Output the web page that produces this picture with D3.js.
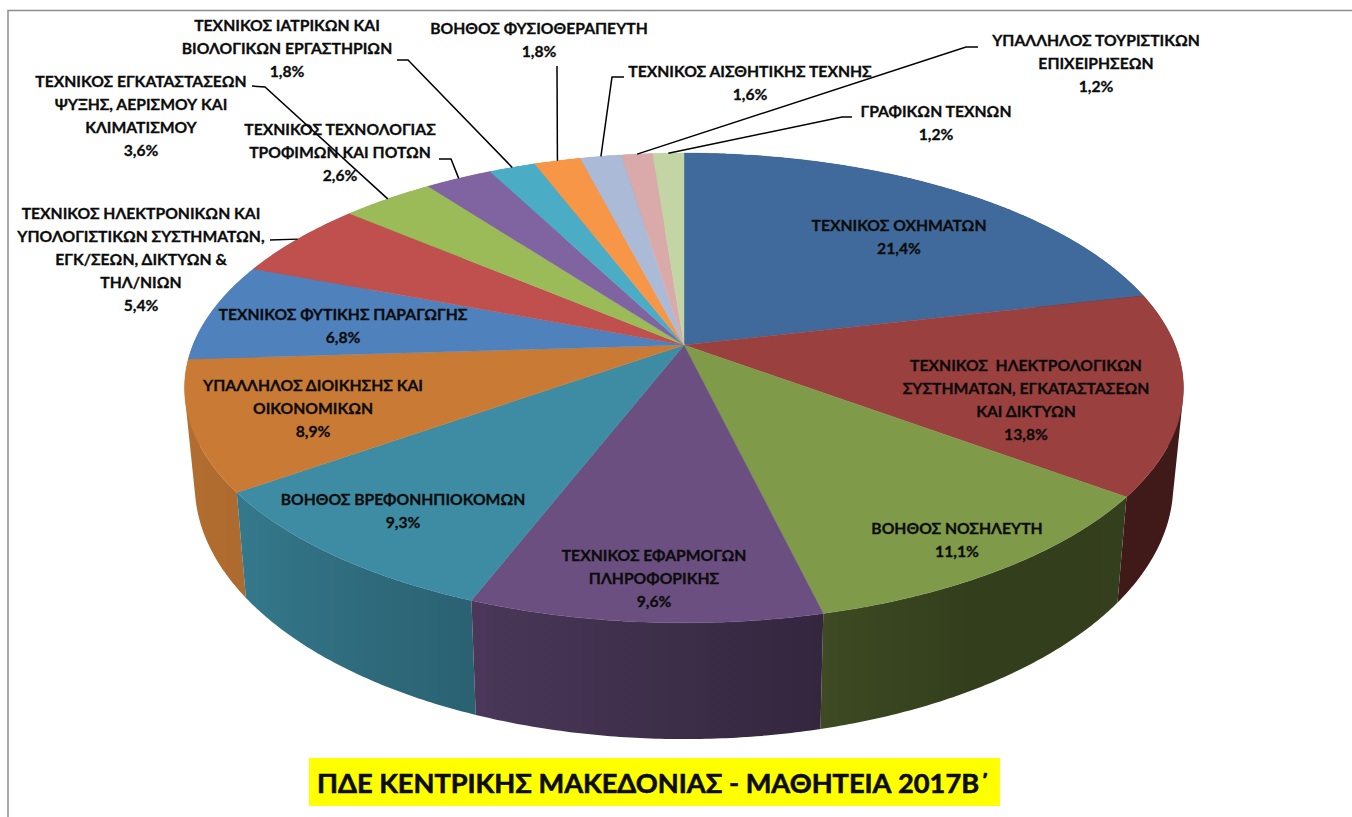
<!DOCTYPE html>
<html>
<head>
<meta charset="utf-8">
<script src="https://cdn.jsdelivr.net/npm/d3@7"></script>
<style>
  html, body { margin: 0; padding: 0; background: #fff; overflow: hidden; }
  text { font-family: "Lato", "Open Sans", sans-serif; font-weight: 700; fill: #0c0c0c; stroke: #0c0c0c; stroke-width: 0.3; }
</style>
</head>
<body>
<div id="chart"></div>
<script>
// values as printed on the chart
var categories = [
    ["ΤΕΧΝΙΚΟΣ ΟΧΗΜΑΤΩΝ"],
    ["ΤΕΧΝΙΚΟΣ  ΗΛΕΚΤΡΟΛΟΓΙΚΩΝ", "ΣΥΣΤΗΜΑΤΩΝ, ΕΓΚΑΤΑΣΤΑΣΕΩΝ", "ΚΑΙ ΔΙΚΤΥΩΝ"],
    ["ΒΟΗΘΟΣ ΝΟΣΗΛΕΥΤΗ"],
    ["ΤΕΧΝΙΚΟΣ ΕΦΑΡΜΟΓΩΝ", "ΠΛΗΡΟΦΟΡΙΚΗΣ"],
    ["ΒΟΗΘΟΣ ΒΡΕΦΟΝΗΠΙΟΚΟΜΩΝ"],
    ["ΥΠΑΛΛΗΛΟΣ ΔΙΟΙΚΗΣΗΣ ΚΑΙ", "ΟΙΚΟΝΟΜΙΚΩΝ"],
    ["ΤΕΧΝΙΚΟΣ ΦΥΤΙΚΗΣ ΠΑΡΑΓΩΓΗΣ"],
    ["ΤΕΧΝΙΚΟΣ ΗΛΕΚΤΡΟΝΙΚΩΝ ΚΑΙ", "ΥΠΟΛΟΓΙΣΤΙΚΩΝ ΣΥΣΤΗΜΑΤΩΝ,", "ΕΓΚ/ΣΕΩΝ, ΔΙΚΤΥΩΝ &", "ΤΗΛ/ΝΙΩΝ"],
    ["ΤΕΧΝΙΚΟΣ ΕΓΚΑΤΑΣΤΑΣΕΩΝ", "ΨΥΞΗΣ, ΑΕΡΙΣΜΟΥ ΚΑΙ", "ΚΛΙΜΑΤΙΣΜΟΥ"],
    ["ΤΕΧΝΙΚΟΣ ΤΕΧΝΟΛΟΓΙΑΣ", "ΤΡΟΦΙΜΩΝ ΚΑΙ ΠΟΤΩΝ"],
    ["ΤΕΧΝΙΚΟΣ ΙΑΤΡΙΚΩΝ ΚΑΙ", "ΒΙΟΛΟΓΙΚΩΝ ΕΡΓΑΣΤΗΡΙΩΝ"],
    ["ΒΟΗΘΟΣ ΦΥΣΙΟΘΕΡΑΠΕΥΤΗ"],
    ["ΤΕΧΝΙΚΟΣ ΑΙΣΘΗΤΙΚΗΣ ΤΕΧΝΗΣ"],
    ["ΥΠΑΛΛΗΛΟΣ ΤΟΥΡΙΣΤΙΚΩΝ", "ΕΠΙΧΕΙΡΗΣΕΩΝ"],
    ["ΓΡΑΦΙΚΩΝ ΤΕΧΝΩΝ"]
];
var shares = [21.4, 13.8, 11.1, 9.6, 9.3, 8.9, 6.8, 5.4, 3.6, 2.6, 1.8, 1.8, 1.6, 1.2, 1.2];
var title = "ΠΔΕ ΚΕΝΤΡΙΚΗΣ ΜΑΚΕΔΟΝΙΑΣ - ΜΑΘΗΤΕΙΑ 2017Β΄";

var colors = ["#406a9b", "#9a403e", "#7f9a48", "#6a4f80", "#3d8ca3", "#c97b36", "#4f81bd", "#c0504d",
              "#9bbb59", "#8064a2", "#4bacc6", "#f79646", "#aabad7", "#d9aaa9", "#c3d5a5"];

// label placement: centre x, y of first line, then the leader's start and elbow if it has one
var labelPos = [
    {x: 899, y: 226}, {x: 1026, y: 366}, {x: 957, y: 529}, {x: 654, y: 556}, {x: 403, y: 500},
    {x: 313, y: 386}, {x: 343, y: 315},
    {x: 141, y: 214, leader: [[270, 240]]},
    {x: 141, y: 82, leader: [[252, 86], [265, 87]]},
    {x: 340, y: 130, leader: [[439, 159], [451, 159]]},
    {x: 287, y: 26, leader: [[397, 60], [408, 60]]},
    {x: 539, y: 29, leader: [[557, 66]]},
    {x: 750, y: 72, leader: [[624, 77], [612, 77]]},
    {x: 1096, y: 41, leader: [[978, 47], [966, 47]]},
    {x: 936, y: 112, leader: [[852, 117], [842, 117]]}
];

var width = 1352, height = 817;

var svg = d3.select("#chart").append("svg")
    .attr("width", width)
    .attr("height", height)
    .style("display", "block");
var defs = svg.append("defs");

// chart frame, open on the right and bottom
svg.append("path")
    .attr("d", "M8,817V10.5H1352")
    .attr("fill", "none")
    .attr("stroke", "#8c8c8c")
    .attr("stroke-width", 1.5);

// perspective projection of the disc, the apex is above the centre of the ellipse
var persp = 0.183;
function rimTop(a) {
    var w = 1 + persp * Math.cos(a);
    return [684 + 491 * Math.sin(a) / w, 345 - 227 * Math.cos(a) / w];
}
function rimBottom(a) {
    var w = 1 + persp * Math.cos(a);
    return [684 + 481 * Math.sin(a) / w, 438 - 246 * Math.cos(a) / w];
}

var arcs = d3.pie().sort(null).value(function(d) { return d; })(shares);
arcs.forEach(function(d, i) { d.index = i; });
var line = d3.line();
var toDeg = 180 / Math.PI;

// angles along a slice, about one step per half degree
function sweep(d) {
    var steps = Math.ceil((d.endAngle - d.startAngle) * toDeg * 2);
    var angle = d3.scaleLinear().domain([0, steps]).range([d.startAngle, d.endAngle]);
    return d3.range(steps + 1).map(angle);
}

// how dark the wall gets as it turns round the front
var wallShade = d3.scaleLinear()
    .domain([0, 120, 150, 167, 201, 235, 267, 360])
    .range([0.41, 0.41, 0.40, 0.48, 0.70, 0.87, 0.90, 0.90]);

// walls back to front, so the nearer slice covers the one behind it
var walls = svg.append("g");
arcs.slice().sort(function(a, b) {
    return Math.cos((b.startAngle + b.endAngle) / 2) - Math.cos((a.startAngle + a.endAngle) / 2);
}).forEach(function(d) {
    var i = d.index, angles = sweep(d);
    var x0 = rimTop(d.startAngle)[0], x1 = rimTop(d.endAngle)[0];
    var grad = defs.append("linearGradient")
        .attr("id", "wall" + i)
        .attr("gradientUnits", "userSpaceOnUse")
        .attr("x1", x0).attr("y1", 0)
        .attr("x2", x1).attr("y2", 0);
    angles.filter(function(a, k) { return k % 4 == 0; }).forEach(function(a) {
        grad.append("stop")
            .attr("offset", Math.max(0, Math.min(1, (rimTop(a)[0] - x0) / (x1 - x0))))
            .attr("stop-color", d3.interpolateRgb("#000", colors[i])(wallShade(a * toDeg)));
    });
    // one path of many quads: keeps the silhouette at the sides and leaves no seams.
    // every quad wound the same way or the overlaps would cancel out
    var quads = d3.pairs(angles).map(function(p) {
        var quad = [rimTop(p[0]), rimTop(p[1]), rimBottom(p[1]), rimBottom(p[0])];
        if (d3.polygonArea(quad) < 0) quad.reverse();
        return line(quad) + "Z";
    });
    walls.append("path")
        .attr("d", quads.join(""))
        .attr("fill", "url(#wall" + i + ")");
});

var faces = svg.append("g");
arcs.forEach(function(d, i) {
    var pts = sweep(d).map(rimTop);
    faces.append("path")
        .attr("d", line([[684, 345]].concat(pts)) + "Z")
        .attr("fill", colors[i])
        .attr("stroke", colors[i])
        .attr("stroke-width", 0.4);
});

// leaders run from the label to the middle of the slice's rim
var leaders = svg.append("g");
arcs.forEach(function(d, i) {
    if (!labelPos[i].leader) return;
    var end = rimTop((d.startAngle + d.endAngle) / 2);
    leaders.append("path")
        .attr("d", line(labelPos[i].leader.concat([end])))
        .attr("fill", "none")
        .attr("stroke", "#000")
        .attr("stroke-width", 1.5);
});

var labelLine = 23;
var labels = svg.append("g").attr("font-size", 15.7);
categories.forEach(function(lines, i) {
    var rows = lines.concat([d3.format(".1f")(shares[i]).replace(".", ",") + "%"]);
    labels.selectAll(null)
        .data(rows)
        .enter().append("text")
        .attr("x", labelPos[i].x)
        .attr("y", function(d, j) { return labelPos[i].y + j * labelLine; })
        .attr("dy", "0.35em")
        .attr("text-anchor", "middle")
        .style("white-space", "pre")
        .text(function(d) { return d; });
});

// title on its yellow band
svg.append("rect")
    .attr("x", 309)
    .attr("y", 758)
    .attr("width", 691)
    .attr("height", 48)
    .attr("fill", "#ffff00");
svg.append("text")
    .attr("x", 653.5)
    .attr("y", 783)
    .attr("dy", "0.35em")
    .attr("text-anchor", "middle")
    .attr("font-size", 27.2)
    .style("stroke-width", 0.6)
    .text(title);
</script>
</body>
</html>
